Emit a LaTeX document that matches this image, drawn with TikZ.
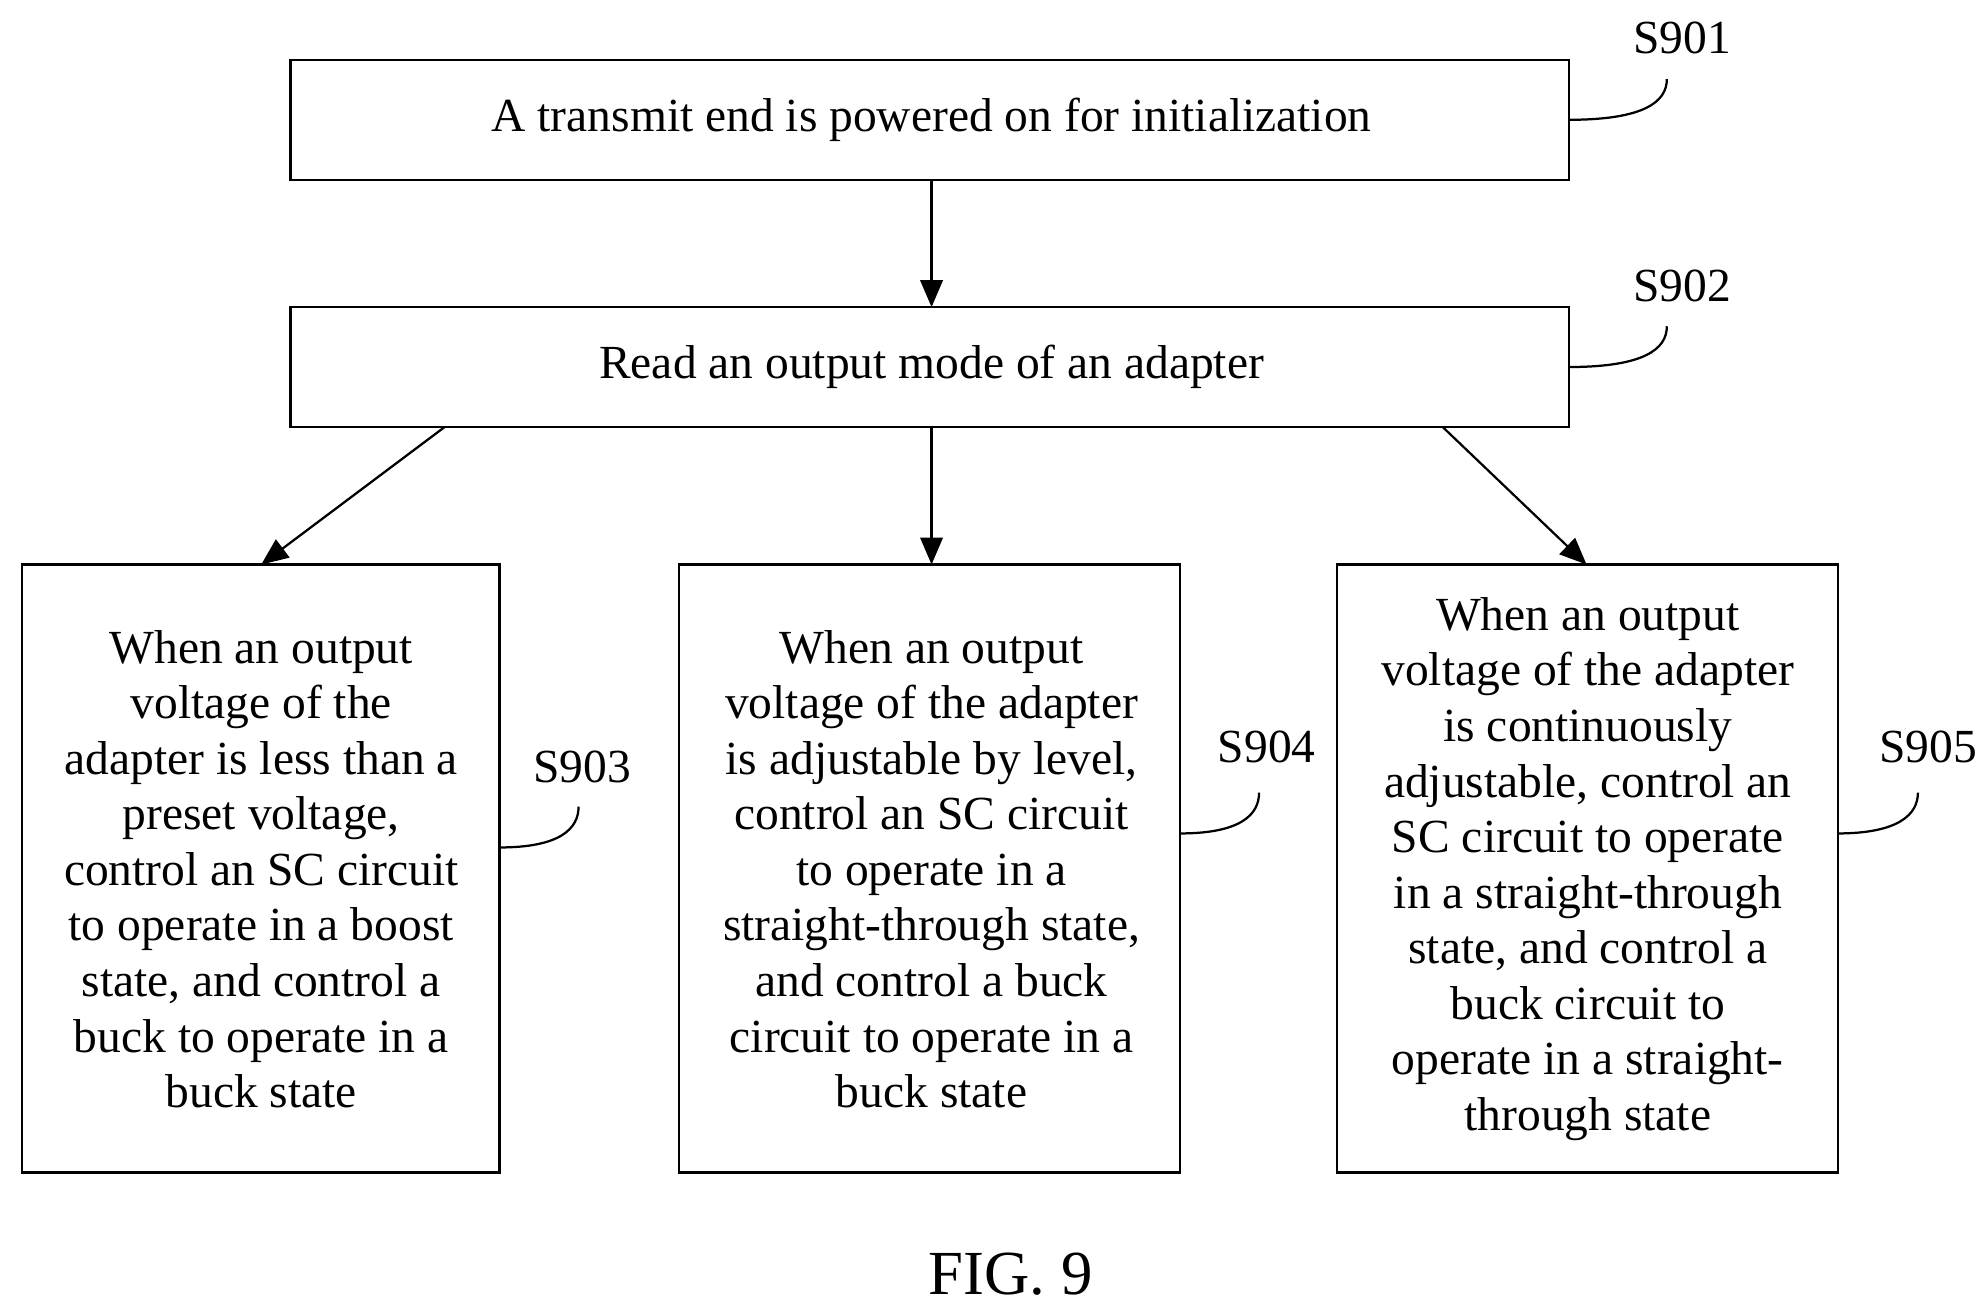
\documentclass[tikz,border=0pt]{standalone}
\usepackage{fontspec}
\setmainfont{Liberation Serif}
\usetikzlibrary{arrows.meta}
\begin{document}
\begin{tikzpicture}[x=0.01cm,y=-0.01cm,
  box/.style={draw,line width=0.5pt,inner sep=0pt},
  txt/.style={align=center,font=\fontsize{10.6}{12.4}\selectfont},
  lab/.style={font=\fontsize{10.6}{12.4}\selectfont},
  arr/.style={-{Triangle[length=6pt,width=5pt]},line width=0.5pt},
  lead/.style={line width=0.5pt}]
\useasboundingbox (0,0) rectangle (1560,1030);
\draw[box] (228,47) rectangle (1231,141);
\node[txt] (t1) at (731,94) {A transmit end is powered on for initialization};
\draw[box] (228,241) rectangle (1231,335);
\node[txt] (t2) at (731,288) {Read an output mode of an adapter};
\draw[box] (17,443) rectangle (392,920);
\node[txt] (t3) at (205,682) {When an output\\voltage of the\\adapter is less than a\\preset voltage,\\control an SC circuit\\to operate in a boost\\state, and control a\\buck to operate in a\\buck state};
\draw[box] (533,443) rectangle (926,920);
\node[txt] (t4) at (731,682) {When an output\\voltage of the adapter\\is adjustable by level,\\control an SC circuit\\to operate in a\\straight-through state,\\and control a buck\\circuit to operate in a\\buck state};
\draw[box] (1049,443) rectangle (1442,920);
\node[txt] (t5) at (1246,682) {When an output\\voltage of the adapter\\is continuously\\adjustable, control an\\SC circuit to operate\\in a straight-through\\state, and control a\\buck circuit to\\operate in a straight-\\through state};
\coordinate (a1) at (731,141); \coordinate (b1) at (731,241);
\draw[arr] (a1) -- (b1);
\coordinate (a2) at (349,335); \coordinate (b2) at (205,443);
\coordinate (a3) at (731,335); \coordinate (b3) at (731,443);
\coordinate (a4) at (1132,335); \coordinate (b4) at (1245,443);
\draw[arr] (a2) -- (b2);
\draw[arr] (a3) -- (b3);
\draw[arr] (a4) -- (b4);
\node[lab] (s1) at (1320,30) {S901};
\node[lab] (s2) at (1320,224) {S902};
\node[lab] (s3) at (457,602) {S903};
\node[lab] (s4) at (994,586) {S904};
\node[lab] (s5) at (1513,586) {S905};
\draw[lead] (1231,94) .. controls (1290,94) and (1308,80) .. (1308,62);
\draw[lead] (1231,288) .. controls (1290,288) and (1308,274) .. (1308,256);
\draw[lead] (392,665) .. controls (440,665) and (454,650) .. (454,633);
\draw[lead] (926,654) .. controls (974,654) and (988,639) .. (988,622);
\draw[lead] (1442,654) .. controls (1490,654) and (1505,639) .. (1505,622);
\node[font=\fontsize{14}{16}\selectfont] (fig) at (793,1000) {FIG. 9};
\end{tikzpicture}
\end{document}
